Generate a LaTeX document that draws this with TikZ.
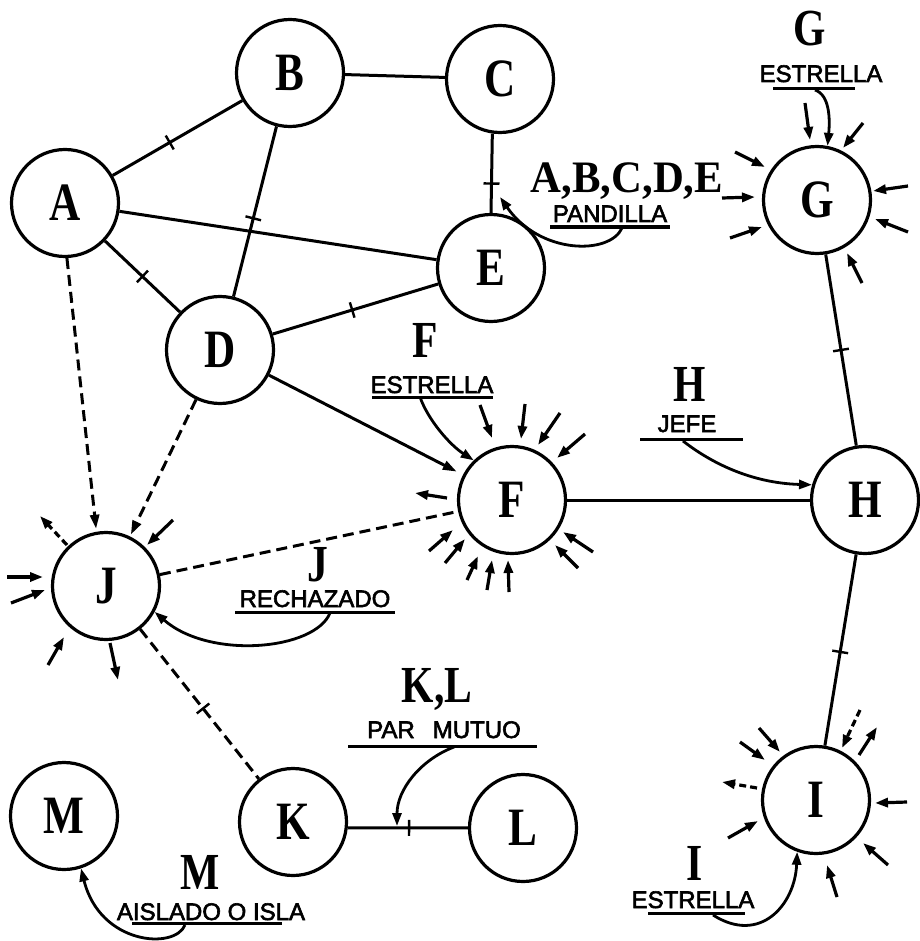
\documentclass[tikz,border=0pt]{standalone}
\usepackage{fontspec}
\newfontfamily\ltrfont[FakeStretch=0.8]{Liberation Serif}
\newfontfamily\grpfont[FakeStretch=0.95]{Liberation Serif}
\newfontfamily\capfont[FakeBold=2.5]{Liberation Sans}
\usetikzlibrary{arrows.meta,calc,decorations.markings}
\begin{document}
\begin{tikzpicture}[x=1pt,y=-1pt,
  nd/.style={circle,draw,line width=3.2pt,minimum size=107pt,inner sep=0pt,font=\ltrfont\bfseries\fontsize{54pt}{54pt}\selectfont},
  lnk/.style={line width=3pt},
  dsh/.style={line width=3pt,dash pattern=on 11pt off 6pt},
  arr/.style={-{Triangle[length=14pt,width=9pt]},shorten >=2pt},
  ray/.style={line width=3.2pt,-{Triangle[length=13pt,width=9pt]}},
  dray/.style={ray,dash pattern=on 7pt off 4pt},
  tk/.style={postaction={decorate},decoration={markings,mark=at position #1 with {\draw[line width=2.4pt,solid] (0pt,-8pt) -- (0pt,8pt);}}},
  big/.style={anchor=base,inner sep=0pt,font=\ltrfont\bfseries\fontsize{52pt}{52pt}\selectfont},
  caplbl/.style={anchor=base,inner sep=0pt,font=\capfont\fontsize{24pt}{24pt}\selectfont},
  ul/.style={line width=3pt},
  ptr/.style={line width=2.8pt,-{Triangle[length=13pt,width=9pt]}}
]
\useasboundingbox (0,0) rectangle (919,941);
% nodes
\node[nd] (A) at (65,203) {A};
\node[nd] (B) at (290,73) {B};
\node[nd] (C) at (500,79) {C};
\node[nd] (E) at (491,268) {E};
\node[nd] (D) at (220,350) {D};
\node[nd] (G) at (817,200) {G};
\node[nd] (F) at (512,500) {F};
\node[nd] (H) at (865,500) {H};
\node[nd] (J) at (106,586) {J};
\node[nd] (I) at (816,800) {I};
\node[nd] (M) at (64,816) {M};
\node[nd] (K) at (293,822) {K};
\node[nd] (L) at (523,828) {L};
% edges
\draw[lnk,tk=0.44] (A) -- (B);
\draw[lnk] (B) -- (C);
\draw[lnk] (A) -- (E);
\draw[lnk,tk=0.5] (A) -- (D);
\draw[lnk,tk=0.54] (B) -- (D);
\draw[lnk,tk=0.48] (D) -- (E);
\draw[lnk,tk=0.63] (C.262) -- (E.north);
\draw[lnk,arr,shorten >=7pt] (D) -- (F);
\draw[lnk] (F) -- (H);
\draw[lnk,tk=0.5] (G) -- (H);
\draw[lnk,tk=0.51] (H) -- (I);
\draw[lnk,tk=0.51] (K.-6) -- (L);
\draw[dsh,arr,shorten >=3pt] (A.-88) -- (J.100);
\draw[dsh,arr] (D) -- (J);
\draw[dsh] (J) -- (F);
\draw[dsh,tk=0.53] (J) -- (K);
% rays around F
\draw[ray] ($(F)+(-32,-95)$) -- ($(F)+(-20,-62)$);
\draw[ray] ($(F)+(13,-96)$) -- ($(F)+(9,-61)$);
\draw[ray] ($(F)+(48,-87)$) -- ($(F)+(26,-55)$);
\draw[ray] ($(F)+(73,-66)$) -- ($(F)+(45,-42)$);
\draw[ray] ($(F)+(-65,-2)$) -- ($(F)+(-97,-7)$);
\draw[ray] ($(F)+(-83,51)$) -- ($(F)+(-59,30)$);
\draw[ray] ($(F)+(-67,63)$) -- ($(F)+(-47,39)$);
\draw[ray] ($(F)+(-45,80)$) -- ($(F)+(-34,56)$);
\draw[ray] ($(F)+(-25,90)$) -- ($(F)+(-20,60)$);
\draw[ray] ($(F)+(-3,92)$) -- ($(F)+(-4,60)$);
\draw[ray] ($(F)+(81,52)$) -- ($(F)+(51,32)$);
\draw[ray] ($(F)+(66,68)$) -- ($(F)+(43,45)$);
% rays around G
\draw[ray] ($(G)+(-12,-97)$) -- ($(G)+(-7,-60)$);
\draw[ray] ($(G)+(46,-77)$) -- ($(G)+(26,-52)$);
\draw[ray] ($(G)+(-82,-48)$) -- ($(G)+(-52,-33)$);
\draw[ray] ($(G)+(-95,-2)$) -- ($(G)+(-62,-3)$);
\draw[ray] ($(G)+(-87,38)$) -- ($(G)+(-55,27)$);
\draw[ray] ($(G)+(91,-14)$) -- ($(G)+(56,-9)$);
\draw[ray] ($(G)+(91,32)$) -- ($(G)+(58,19)$);
\draw[ray] ($(G)+(45,83)$) -- ($(G)+(30,53)$);
% rays around I
\draw[ray] ($(I)+(-57,-72)$) -- ($(I)+(-36,-48)$);
\draw[ray] ($(I)+(-76,-58)$) -- ($(I)+(-51,-40)$);
\draw[dray] ($(I)+(-59,-12)$) -- ($(I)+(-94,-18)$);
\draw[ray] ($(I)+(-88,38)$) -- ($(I)+(-58,21)$);
\draw[ray] ($(I)+(21,97)$) -- ($(I)+(11,65)$);
\draw[ray] ($(I)+(72,65)$) -- ($(I)+(47,43)$);
\draw[ray] ($(I)+(91,2)$) -- ($(I)+(59,3)$);
\draw[ray] ($(I)+(43,-45)$) -- ($(I)+(61,-73)$);
\draw[dray] ($(I)+(44,-90)$) -- ($(I)+(26,-52)$);
% rays around J
\draw[dray] ($(J)+(-39,-41)$) -- ($(J)+(-66,-70)$);
\draw[ray] ($(J)+(67,-66)$) -- ($(J)+(41,-41)$);
\draw[ray] ($(J)+(-99,-9)$) -- ($(J)+(-63,-9)$);
\draw[ray] ($(J)+(-95,17)$) -- ($(J)+(-61,4)$);
\draw[ray] ($(J)+(-58,79)$) -- ($(J)+(-42,51)$);
\draw[ray] ($(J)+(4,57)$) -- ($(J)+(12,94)$);
% labels: pandilla
\node[big,font=\grpfont\bfseries\fontsize{45pt}{45pt}\selectfont] (tABCDE) at (627,193) {A,B,C,D,E};
\node[caplbl] (tPAN) at (610,222) {PANDILLA};
\draw[ul] (550,227) -- (670,227);
\coordinate (pCE) at (500,197);
\draw[ptr] (622,228) .. controls (610,255) and (540,255) .. (pCE);
% G
\node[big] (tG) at (810,46) {G};
\node[caplbl] (tGs) at (821,82) {ESTRELLA};
\draw[ul] (773,89) -- (855,89);
\draw[ptr] (815,90) .. controls (830,95) and (830,120) .. (G.79);
% F
\node[big] (tF) at (425,357) {F};
\node[caplbl] (tFs) at (432,393) {ESTRELLA};
\draw[ul] (372,397) -- (493,397);
\draw[ptr] (420,397) .. controls (428,420) and (450,445) .. (F.134);
% H
\node[big] (tH) at (690,401) {H};
\node[caplbl] (tHs) at (687,432) {JEFE};
\draw[ul] (640,439) -- (743,439);
\draw[ptr] (683,441) .. controls (710,462) and (750,483) .. (H.164);
% J
\node[big] (tJ) at (318,581) {J};
\node[caplbl] (tJs) at (315,607) {RECHAZADO};
\draw[ul] (235,612) -- (395,612);
\draw[ptr] (330,613) .. controls (315,650) and (210,660) .. (J.-28);
% K,L
\node[big] (tKL) at (437,702) {K,L};
\node[caplbl] (tKLs) at (444,738) {PAR\hspace{18pt}MUTUO};
\draw[ul] (348,746) -- (537,746);
\coordinate (pKL) at (397,826);
\draw[ptr] (454,747) .. controls (420,760) and (397,790) .. (pKL);
% M
\node[big] (tM) at (200,889) {M};
\node[caplbl] (tMs) at (211,920) {AISLADO O ISLA};
\draw[ul] (132,923) -- (282,923);
\draw[ptr] (185,925) .. controls (175,950) and (100,945) .. (M.-72);
% I
\node[big] (tI) at (695,880) {I};
\node[caplbl] (tIs) at (693,908) {ESTRELLA};
\draw[ul] (648,913) -- (745,913);
\draw[ptr] (713,915) .. controls (760,945) and (795,905) .. (I.-110);
\end{tikzpicture}
\end{document}
